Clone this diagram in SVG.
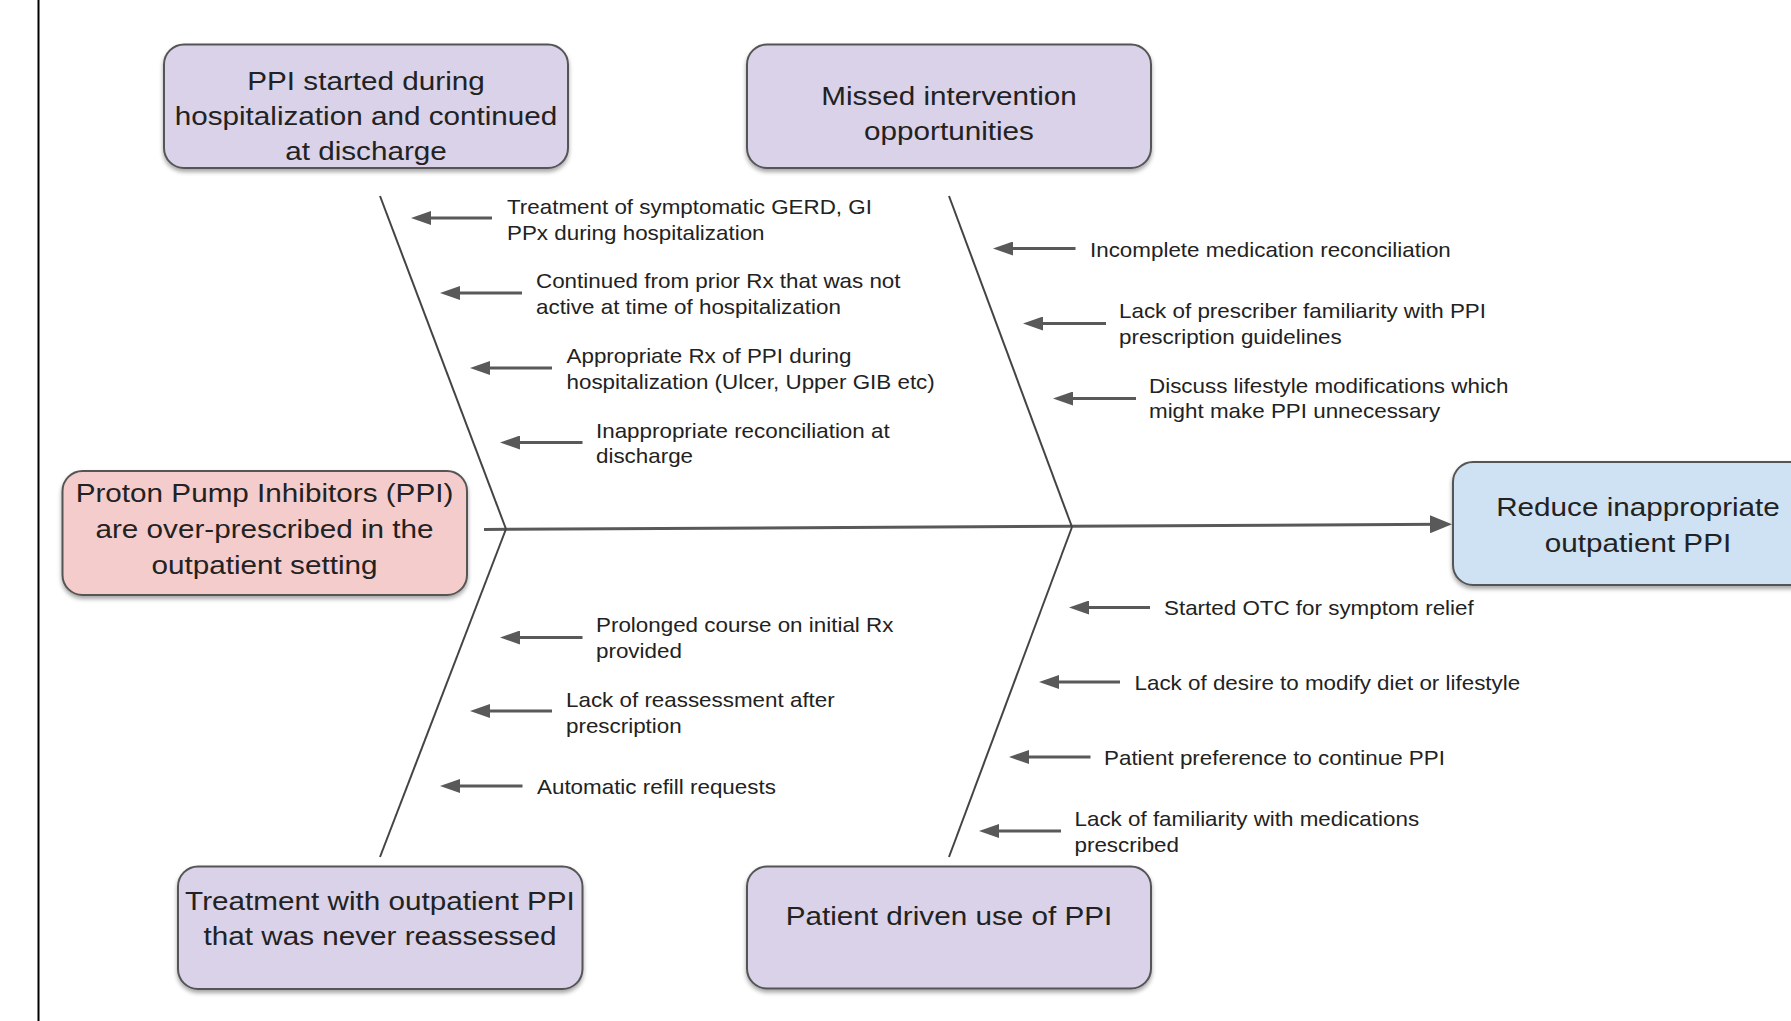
<svg xmlns="http://www.w3.org/2000/svg" width="1791" height="1021" viewBox="0 0 1791 1021">
<style>
  .box { stroke: #555555; stroke-width: 2; filter: url(#sh); }
  .purple { fill: #d9d2e9; }
  .pink { fill: #f4cccc; }
  .blue { fill: #cfe2f3; }
  .bt { font-family: "Liberation Sans", Arial, sans-serif; font-size: 26.5px; fill: #222222; text-anchor: middle; }
  .lb { font-family: "Liberation Sans", Arial, sans-serif; font-size: 20px; fill: #222222; }
  .bone { stroke: #444444; stroke-width: 2; fill: none; }
  .spine { stroke: #595959; stroke-width: 3; fill: none; }
  .arr { stroke: #595959; stroke-width: 3; fill: none; marker-end: url(#ah); }
</style>
<defs>
  <filter id="sh" x="-10%" y="-10%" width="120%" height="135%">
    <feDropShadow dx="0" dy="3" stdDeviation="2" flood-color="#000000" flood-opacity="0.35"/>
  </filter>
  <marker id="ah" viewBox="0 0 20 14" refX="10" refY="7" markerWidth="20" markerHeight="14" markerUnits="userSpaceOnUse" orient="auto">
    <path d="M0,0 L20,7 L0,14 z" fill="#595959"/>
  </marker>
  <marker id="ah2" viewBox="0 0 22 18" refX="12" refY="9" markerWidth="22" markerHeight="18" markerUnits="userSpaceOnUse" orient="auto">
    <path d="M0,0 L22,9 L0,18 z" fill="#595959"/>
  </marker>
</defs>
<rect x="0" y="0" width="1791" height="1021" fill="#ffffff"/>
<line x1="38.5" y1="0" x2="38.5" y2="1021" stroke="#000000" stroke-width="2"/>

<g id="connectors">
  <line class="spine" x1="484" y1="529.5" x2="1442" y2="524.2" style="marker-end:url(#ah2)"/>
  <line class="bone" x1="380" y1="196" x2="506" y2="529"/>
  <line class="bone" x1="506" y1="529" x2="380" y2="857"/>
  <line class="bone" x1="949" y1="196" x2="1072" y2="527"/>
  <line class="bone" x1="1072" y1="527" x2="949" y2="857"/>
  <line class="arr" x1="492" y1="218" x2="421" y2="218"/>
  <line class="arr" x1="522" y1="293" x2="450" y2="293"/>
  <line class="arr" x1="552" y1="368" x2="480" y2="368"/>
  <line class="arr" x1="582.5" y1="442.5" x2="510" y2="442.5"/>
  <line class="arr" x1="1075.5" y1="248.5" x2="1003" y2="248.5"/>
  <line class="arr" x1="1106" y1="323.5" x2="1033" y2="323.5"/>
  <line class="arr" x1="1136" y1="398.5" x2="1063" y2="398.5"/>
  <line class="arr" x1="582.5" y1="637.5" x2="510" y2="637.5"/>
  <line class="arr" x1="552" y1="711" x2="480" y2="711"/>
  <line class="arr" x1="522.5" y1="786" x2="450" y2="786"/>
  <line class="arr" x1="1150" y1="607.5" x2="1079" y2="607.5"/>
  <line class="arr" x1="1120" y1="682" x2="1049" y2="682"/>
  <line class="arr" x1="1090.5" y1="757" x2="1019" y2="757"/>
  <line class="arr" x1="1061" y1="831" x2="989" y2="831"/>
</g>

<g id="node-hospitalization">
  <rect class="box purple" x="164" y="44.5" width="404" height="123.5" rx="20"/>
  <text class="bt" transform="translate(366,0) scale(1.12,1)"><tspan x="0" y="90">PPI started during</tspan><tspan x="0" y="125">hospitalization and continued</tspan><tspan x="0" y="160">at discharge</tspan></text>
</g>
<g id="node-missed">
  <rect class="box purple" x="747" y="44.5" width="404" height="123.5" rx="20"/>
  <text class="bt" transform="translate(949,0) scale(1.12,1)"><tspan x="0" y="105">Missed intervention</tspan><tspan x="0" y="140">opportunities</tspan></text>
</g>
<g id="node-problem">
  <rect class="box pink" x="62.5" y="471" width="404.5" height="124" rx="20"/>
  <text class="bt" transform="translate(264.5,0) scale(1.12,1)"><tspan x="0" y="502">Proton Pump Inhibitors (PPI)</tspan><tspan x="0" y="538.5">are over-prescribed in the</tspan><tspan x="0" y="574.5">outpatient setting</tspan></text>
</g>
<g id="node-goal">
  <rect class="box blue" x="1453" y="462" width="370" height="123" rx="20"/>
  <text class="bt" transform="translate(1638,0) scale(1.12,1)"><tspan x="0" y="516">Reduce inappropriate</tspan><tspan x="0" y="552">outpatient PPI</tspan></text>
</g>
<g id="node-outpatient">
  <rect class="box purple" x="178" y="866.5" width="404.5" height="122.5" rx="20"/>
  <text class="bt" transform="translate(380,0) scale(1.12,1)"><tspan x="0" y="910">Treatment with outpatient PPI</tspan><tspan x="0" y="945.5">that was never reassessed</tspan></text>
</g>
<g id="node-patient">
  <rect class="box purple" x="747" y="866.5" width="404" height="122" rx="20"/>
  <text class="bt" transform="translate(949,0) scale(1.12,1)"><tspan x="0" y="925">Patient driven use of PPI</tspan></text>
</g>

<g id="labels">
  <text class="lb" transform="translate(507,0) scale(1.12,1)"><tspan x="0" y="214">Treatment of symptomatic GERD, GI</tspan><tspan x="0" y="240">PPx during hospitalization</tspan></text>
  <text class="lb" transform="translate(536,0) scale(1.12,1)"><tspan x="0" y="288">Continued from prior Rx that was not</tspan><tspan x="0" y="314.5">active at time of hospitalization</tspan></text>
  <text class="lb" transform="translate(566.5,0) scale(1.12,1)"><tspan x="0" y="363">Appropriate Rx of PPI during</tspan><tspan x="0" y="389">hospitalization (Ulcer, Upper GIB etc)</tspan></text>
  <text class="lb" transform="translate(596,0) scale(1.12,1)"><tspan x="0" y="438">Inappropriate reconciliation at</tspan><tspan x="0" y="463.5">discharge</tspan></text>
  <text class="lb" transform="translate(1090,0) scale(1.12,1)"><tspan x="0" y="257">Incomplete medication reconciliation</tspan></text>
  <text class="lb" transform="translate(1119,0) scale(1.12,1)"><tspan x="0" y="318.5">Lack of prescriber familiarity with PPI</tspan><tspan x="0" y="344.5">prescription guidelines</tspan></text>
  <text class="lb" transform="translate(1149,0) scale(1.12,1)"><tspan x="0" y="393">Discuss lifestyle modifications which</tspan><tspan x="0" y="418.5">might make PPI unnecessary</tspan></text>
  <text class="lb" transform="translate(596,0) scale(1.12,1)"><tspan x="0" y="632.5">Prolonged course on initial Rx</tspan><tspan x="0" y="658.5">provided</tspan></text>
  <text class="lb" transform="translate(566,0) scale(1.12,1)"><tspan x="0" y="707">Lack of reassessment after</tspan><tspan x="0" y="733">prescription</tspan></text>
  <text class="lb" transform="translate(537,0) scale(1.12,1)"><tspan x="0" y="794">Automatic refill requests</tspan></text>
  <text class="lb" transform="translate(1164,0) scale(1.12,1)"><tspan x="0" y="615">Started OTC for symptom relief</tspan></text>
  <text class="lb" transform="translate(1134.5,0) scale(1.12,1)"><tspan x="0" y="690">Lack of desire to modify diet or lifestyle</tspan></text>
  <text class="lb" transform="translate(1104,0) scale(1.12,1)"><tspan x="0" y="765">Patient preference to continue PPI</tspan></text>
  <text class="lb" transform="translate(1074.5,0) scale(1.12,1)"><tspan x="0" y="826">Lack of familiarity with medications</tspan><tspan x="0" y="852.5">prescribed</tspan></text>
</g>
</svg>
